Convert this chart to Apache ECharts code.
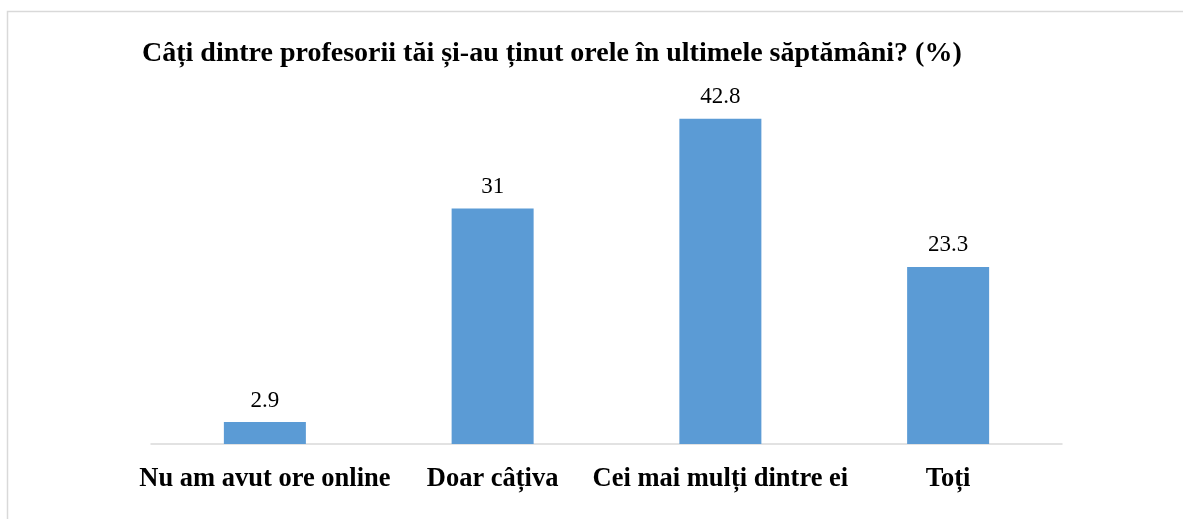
<!DOCTYPE html>
<html>
<head>
<meta charset="utf-8">
<script src="https://cdn.jsdelivr.net/npm/echarts@6/dist/echarts.min.js"></script>
<style>
html,body{margin:0;padding:0;background:#fff;}
#c{width:1183px;height:519px;}
</style>
</head>
<body>
<div id="c"></div>
<script>
const titleText = 'Câți dintre profesorii tăi și-au ținut orele în ultimele săptămâni? (%)';
const categories = ['Nu am avut ore online', 'Doar câțiva', 'Cei mai mulți dintre ei', 'Toți'];
const values = [2.9, 31, 42.8, 23.3];

const chart = echarts.init(document.getElementById('c'), null, {renderer: 'canvas'});
chart.setOption({
  animation: false,
  backgroundColor: '#ffffff',
  graphic: [{
    type: 'rect',
    shape: {x: 7.5, y: 11.5, width: 1400, height: 700},
    style: {fill: 'none', stroke: '#d9d9d9', lineWidth: 1.5},
    silent: true
  }],
  title: {
    text: titleText,
    left: 137,
    top: 35,
    textStyle: {fontFamily: 'Liberation Serif', fontWeight: 'bold', fontSize: 28, color: '#000'}
  },
  grid: {left: 151, right: 121, top: 102, bottom: 75},
  xAxis: {
    type: 'category',
    data: categories,
    axisLine: {lineStyle: {color: '#d9d9d9', width: 1.5}},
    axisTick: {show: false},
    axisLabel: {
      interval: 0,
      margin: 22,
      fontFamily: 'Liberation Serif',
      fontWeight: 'bold',
      fontSize: 26.5,
      color: '#000'
    }
  },
  yAxis: {
    type: 'value',
    min: 0,
    max: 45,
    show: false,
    splitLine: {show: false}
  },
  series: [{
    type: 'bar',
    data: values,
    barWidth: 82,
    itemStyle: {color: '#5b9bd5'},
    label: {
      show: true,
      position: 'top',
      distance: 10,
      fontFamily: 'Liberation Serif',
      fontSize: 23,
      color: '#000'
    }
  }]
});
</script>
</body>
</html>
